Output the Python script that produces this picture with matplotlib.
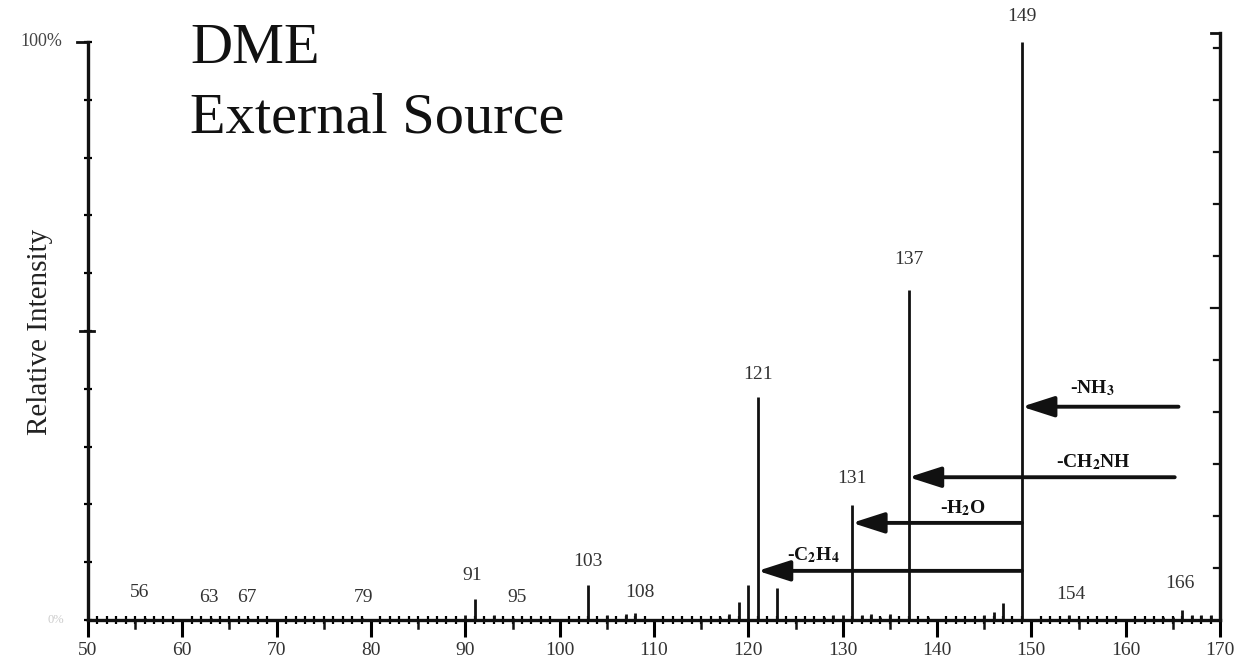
"""
DME mass spectrum, external source
"""
import numpy as np
import matplotlib
matplotlib.use('Agg')
import matplotlib.pyplot as plt
from matplotlib.ticker import MultipleLocator

plt.rcParams['font.family'] = ['Liberation Serif', 'DejaVu Serif']
plt.rcParams['mathtext.fontset'] = 'stix'

# peak list: m/z and relative intensity (%)
mz = [56, 63, 67, 79, 90, 91, 93, 95, 103, 105, 107, 108,
      117, 118, 119, 120, 121, 123, 128, 129, 130, 131, 132, 133, 134, 135,
      137, 139, 145, 146, 147, 149, 154, 164, 165, 166, 167, 168, 169]
intensity = [0.3, 0.3, 0.3, 0.3, 0.8, 3.6, 0.8, 0.3, 6.0, 0.8, 1.0, 1.2,
             0.5, 1.0, 3.1, 6.0, 38.6, 5.5, 0.5, 0.8, 0.8, 19.9, 0.8, 1.0, 0.6, 1.0,
             57.1, 0.6, 0.8, 1.3, 3.0, 100.0, 0.8, 0.5, 0.6, 1.8, 0.8, 0.8, 0.8]

# labelled peaks: text, x, y
peak_labels = [('149', 149, 103.0), ('137', 137, 60.9), ('121', 121, 41.0),
               ('131', 131, 23.0), ('103', 103, 8.7), ('91', 90.7, 6.2),
               ('95', 95.5, 2.4), ('108', 108.5, 3.3), ('56', 55.5, 3.3),
               ('63', 62.8, 2.4), ('67', 66.8, 2.4), ('79', 79.2, 2.4),
               ('154', 154.2, 2.9), ('166', 165.7, 4.8)]

# neutral losses: label, start m/z, end m/z, level, label position
losses = [(r'-NH$_{\mathbf{3}}$', 165.6, 149, 36.9, (156.5, 39.3)),
          (r'-CH$_{\mathbf{2}}$NH', 165.2, 137, 24.7, (156.6, 26.5)),
          (r'-H$_{\mathbf{2}}$O', 149, 131, 16.8, (142.8, 18.5)),
          (r'-C$_{\mathbf{2}}$H$_{\mathbf{4}}$', 149, 121, 8.5, (126.9, 10.4))]

# axis ticks
left_ticks = np.arange(0, 101, 10)
right_ticks = np.arange(0, 100, 9)

fig = plt.figure(figsize=(12.37, 6.68), dpi=100, facecolor='white')
ax = fig.add_axes([88 / 1237, 48 / 668, (1220 - 88) / 1237, (620 - 33) / 668])

ax.vlines(mz, 0, intensity, color='#111111', linewidth=2.0)

for txt, x, y in peak_labels:
    ax.text(x, y, txt, ha='center', va='bottom', fontsize=14, color='#333333')

for txt, x0, x1, lvl, (tx, ty) in losses:
    ax.annotate('', xy=(x1, lvl), xytext=(x0, lvl),
                arrowprops=dict(arrowstyle='-|>,head_length=1.4,head_width=0.45',
                                lw=2.8, color='#111111', shrinkA=0, shrinkB=0,
                                mutation_scale=14))
    ax.text(tx, ty, txt, ha='center', va='baseline', fontsize=14,
            fontweight='bold', color='#111111')

ax.text(60.8, 96.4, 'DME', fontsize=42, va='baseline', ha='left', color='#111111')
ax.text(60.8, 84.4, 'External Source', fontsize=42, va='baseline', ha='left',
        color='#111111')

ax.set_xlim(50, 170)
ax.set_ylim(0, (620 - 33) / 578 * 100)

ax.spines['top'].set_visible(False)
for s in ['left', 'right', 'bottom']:
    ax.spines[s].set_linewidth(2.4)
    ax.spines[s].set_color('#111111')
ax.spines['left'].set_bounds(0, 100)

# x ticks: majors every 10, mids every 5, minors every unit
ax.xaxis.set_major_locator(MultipleLocator(10))
ax.xaxis.set_minor_locator(MultipleLocator(1))
ax.tick_params(axis='x', which='major', direction='out', length=12, width=2.2,
               labelsize=14, pad=4, labelcolor='#333333')
ax.tick_params(axis='x', which='minor', direction='inout', length=6, width=1.6)
for x in range(55, 170, 10):
    ax.plot([x, x], [0, -1.3], color='#111111', lw=1.8, clip_on=False)

# left y ticks every 10 %, larger one at 50 %
ax.set_yticks(left_ticks)
ax.set_yticklabels([])
ax.tick_params(axis='y', which='major', direction='inout', length=6, width=1.6,
               left=True, right=False)
ax.plot([49.2, 50.6], [50, 50], color='#111111', lw=2.0, clip_on=False)
ax.plot([48.8, 50], [100, 100], color='#111111', lw=2.0, clip_on=False)

# right axis ticks
for i, t in enumerate(right_ticks[1:], start=1):
    w = 1.0 if i == 6 else 0.6
    ax.plot([170 - w, 170], [t, t], color='#111111', lw=1.6, clip_on=False)
ax.plot([169.0, 170], [101.5, 101.5], color='#111111', lw=2.0, clip_on=False)

ax.text(47.3, 100, '100%', ha='right', va='center', fontsize=13, color='#444444')
ax.text(47.5, 0, '0%', ha='right', va='center', fontsize=9, color='#cccccc')
ax.set_ylabel('Relative Intensity', fontsize=21, color='#222222')
ax.yaxis.set_label_coords(-0.031, 0.49)

fig.savefig('out.png', dpi=100, facecolor='white')
